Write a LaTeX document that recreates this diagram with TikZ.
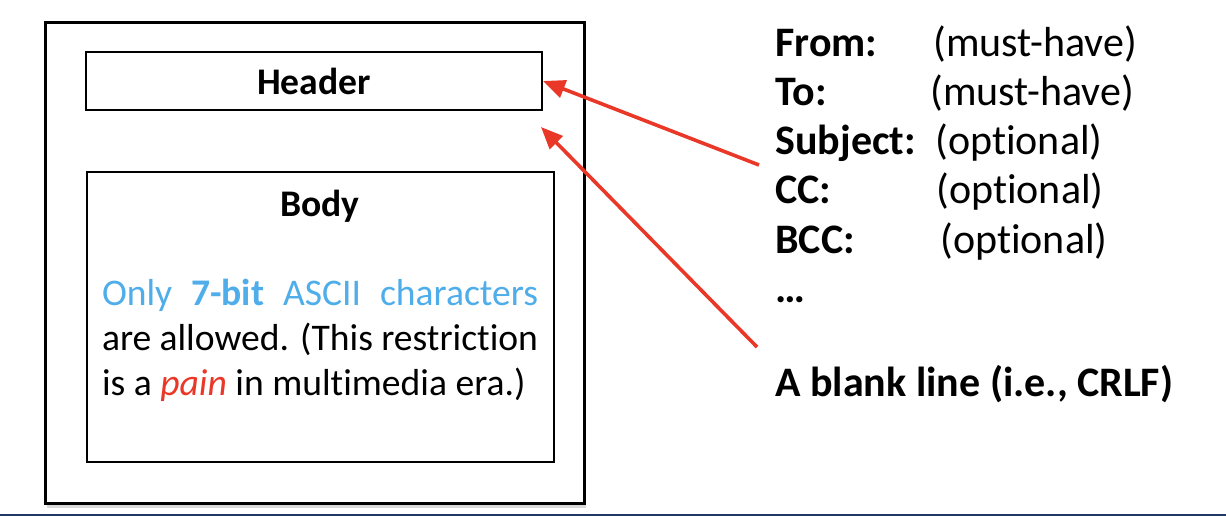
\documentclass[tikz,border=0pt]{standalone}
\usepackage{fontspec}
\setmainfont{Carlito}[Ligatures=NoCommon]
\usetikzlibrary{arrows.meta,shadows,positioning}
\definecolor{asciiblue}{RGB}{79,173,234}
\definecolor{arrowred}{RGB}{234,56,40}
\definecolor{slidenavy}{RGB}{31,56,100}
\tikzset{
  msgbox/.style = {draw=black, line width=1pt, inner sep=0pt, fill=white},
  outerbox/.style = {draw=black, line width=1.5pt, inner sep=0pt, fill=white,
    drop shadow={shadow xshift=1pt, shadow yshift=-2.5pt, opacity=0.3}},
  boxtitle/.style = {anchor=base, inner sep=0pt,
    font=\fontsize{18.8}{22.5}\selectfont\bfseries},
  fieldkey/.style = {anchor=base west, inner sep=0pt,
    font=\fontsize{21}{24}\selectfont\bfseries},
  fieldval/.style = {anchor=base west, inner sep=0pt,
    font=\fontsize{21}{24}\selectfont},
  pointer/.style = {-{Triangle[length=11pt,width=9pt]}, draw=arrowred,
    line width=1.8pt}}

\begin{document}
\begin{tikzpicture}[x=0.5pt,y=-0.5pt]
\useasboundingbox (0,0) rectangle (1226,516);

% message frame
\node [outerbox, minimum width=269.5pt, minimum height=240.5pt] (msg) at (314.5,262.5) {};
\node [msgbox, minimum width=228pt, minimum height=29pt,
  font=\fontsize{18.8}{22.5}\selectfont\bfseries] (header) at (314,81) {Header};
\node [msgbox, minimum width=233.5pt, minimum height=145pt] (body) at (320.5,317) {};
\node [boxtitle] (bodytitle) at (320,216) {Body};
\node [inner sep=0pt, text width=218pt, align=justify,
  font=\fontsize{18.8}{22.5}\selectfont] (bodytext) at (320,340)
  {\textcolor{asciiblue}{Only \textbf{7-bit} ASCII characters}\linebreak
   are allowed. (This restriction\linebreak
   is a \textcolor{arrowred}{\textit{pain}} in multimedia era.)};

% header fields
\node [fieldkey] (from) at (775,56) {From:};
\node [fieldval] (fromval) at (933,56) {(must-have)};
\node [fieldkey] (to) at (775,105) {To:};
\node [fieldval] (toval) at (930,105) {(must-have)};
\node [fieldkey] (subj) at (775,154) {Subject:};
\node [fieldval] (subjval) at (935,154) {(optional)};
\node [fieldkey] (cc) at (775,203) {CC:};
\node [fieldval] (ccval) at (936,203) {(optional)};
\node [fieldkey] (bcc) at (775,253) {BCC:};
\node [fieldval] (bccval) at (940,253) {(optional)};
\node [fieldkey] (more) at (775,302) {\dots};
\node [fieldkey] (blank) at (775,396) {A blank line (i.e., CRLF)};

% pointers
\coordinate (subjtail) at (759,165);
\coordinate (blanktail) at (757,347);
\coordinate (gaptip) at (541,127);
\draw [pointer] (subjtail) -- (header.east);
\draw [pointer] (blanktail) -- (gaptip);

\draw [slidenavy, line width=1.3pt] (0,515) -- (1226,515);
\end{tikzpicture}
\end{document}
